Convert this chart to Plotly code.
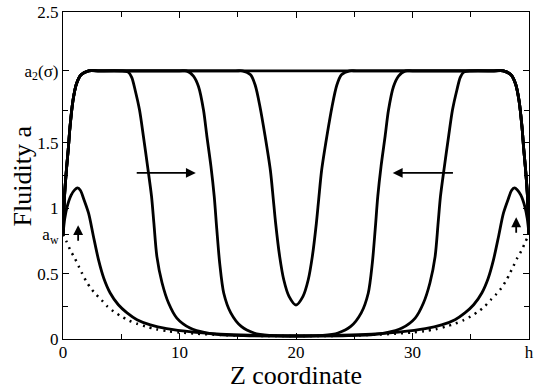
import plotly.graph_objects as go

# dotted initial profile
x_init = [0, 0.3, 0.65, 1.0, 1.35, 1.65, 2.0, 2.4, 2.8, 3.3, 3.8, 4.35, 5.0, 5.65, 6.35, 7.1, 8.0, 9.0,
          10.0, 11.5, 13.0, 15.0, 17.5, 20.0, 22.5, 25.0, 27.0, 28.5, 30.0, 31.0, 32.0, 32.9, 33.65, 34.35,
          35.0, 35.65, 36.2, 36.7, 37.2, 37.6, 38.0, 38.35, 38.65, 39.0, 39.35, 39.7, 40.0]
a_init = [0.80, 0.745, 0.675, 0.62, 0.555, 0.50, 0.44, 0.387, 0.344, 0.298, 0.25, 0.21, 0.173, 0.142, 0.117,
          0.096, 0.075, 0.06, 0.05, 0.04, 0.033, 0.027, 0.023, 0.022, 0.023, 0.027, 0.033, 0.04, 0.05, 0.06,
          0.075, 0.096, 0.117, 0.142, 0.173, 0.21, 0.25, 0.298, 0.344, 0.387, 0.44, 0.50, 0.555, 0.62, 0.675,
          0.745, 0.80]

# wall bumps
x_bump = [0, 0.15, 0.35, 0.7, 1.0, 1.25, 1.5, 1.8, 2.2, 2.6, 3.05, 3.5, 4.05, 4.75, 5.5, 6.35, 7.5, 8.9,
          11.2, 13.5, 16.0, 20.0, 24.0, 26.5, 28.8, 31.1, 32.5, 33.65, 34.5, 35.25, 35.95, 36.5, 36.95, 37.4,
          37.8, 38.2, 38.5, 38.75, 39.0, 39.3, 39.65, 39.85, 40.0]
a_bump = [0.80, 0.92, 1.01, 1.10, 1.14, 1.155, 1.135, 1.065, 0.96, 0.79, 0.605, 0.465, 0.352, 0.262, 0.20,
          0.148, 0.108, 0.079, 0.053, 0.038, 0.03, 0.025, 0.03, 0.038, 0.053, 0.079, 0.108, 0.148, 0.20,
          0.262, 0.352, 0.465, 0.605, 0.79, 0.96, 1.065, 1.135, 1.155, 1.14, 1.10, 1.01, 0.92, 0.80]

# front at z ~ 7.5 / 32.5
x_front1 = [0, 0.15, 0.3, 0.45, 0.6, 0.85, 1.15, 1.55, 2.2, 3.0, 5.0, 5.6, 5.9, 6.2, 6.57, 6.9, 7.26,
            7.6, 7.8, 8.06, 8.5, 9.06, 9.77, 10.9, 12.3, 13.4, 16.0, 20.0, 24.0, 26.6, 27.7, 29.1, 30.23,
            30.94, 31.5, 31.94, 32.2, 32.4, 32.74, 33.1, 33.43, 33.8, 34.1, 34.4, 35.0, 37.0, 37.8, 38.45,
            38.85, 39.15, 39.4, 39.55, 39.7, 39.85, 40.0]
a_front1 = [0.80, 1.12, 1.30, 1.45, 1.62, 1.82, 1.95, 2.02, 2.05, 2.05, 2.05, 2.04, 2.0, 1.9, 1.75, 1.55,
            1.32, 1.09, 0.887, 0.63, 0.43, 0.275, 0.16, 0.084, 0.046, 0.033, 0.025, 0.022, 0.025, 0.033,
            0.046, 0.084, 0.16, 0.275, 0.43, 0.63, 0.887, 1.09, 1.32, 1.55, 1.75, 1.9, 2.0, 2.04, 2.05,
            2.05, 2.05, 2.02, 1.95, 1.82, 1.62, 1.45, 1.30, 1.12, 0.80]

# front at z ~ 12.7 / 27.3
x_front2 = [0, 0.15, 0.3, 0.45, 0.6, 0.85, 1.15, 1.55, 2.2, 3.0, 10.0, 10.6, 11.2, 11.63, 12.06, 12.35,
            12.7, 12.98, 13.2, 13.45, 13.8, 14.4, 15.3, 16.4, 17.7, 20.0, 22.3, 23.6, 24.7, 25.6, 26.2,
            26.55, 26.8, 27.02, 27.3, 27.65, 27.94, 28.37, 28.8, 29.4, 30.0, 37.0, 37.8, 38.45, 38.85,
            39.15, 39.4, 39.55, 39.7, 39.85, 40.0]
a_front2 = [0.80, 1.12, 1.30, 1.45, 1.62, 1.82, 1.95, 2.02, 2.05, 2.05, 2.05, 2.05, 2.01, 1.93, 1.75, 1.55,
            1.32, 1.09, 0.84, 0.58, 0.35, 0.20, 0.096, 0.046, 0.028, 0.022, 0.028, 0.046, 0.096, 0.20, 0.35,
            0.58, 0.84, 1.09, 1.32, 1.55, 1.75, 1.93, 2.01, 2.05, 2.05, 2.05, 2.05, 2.02, 1.95, 1.82, 1.62,
            1.45, 1.30, 1.12, 0.80]

# fronts meeting at centre
x_front3 = [0, 0.15, 0.3, 0.45, 0.6, 0.85, 1.15, 1.55, 2.2, 3.0, 14.8, 15.4, 16.1, 16.5, 16.9, 17.35,
            17.8, 18.05, 18.25, 18.6, 18.95, 19.4, 20.0, 20.6, 21.05, 21.4, 21.75, 21.95, 22.2, 22.65,
            23.1, 23.5, 23.9, 24.6, 25.2, 37.0, 37.8, 38.45, 38.85, 39.15, 39.4, 39.55, 39.7, 39.85, 40.0]
a_front3 = [0.80, 1.12, 1.30, 1.45, 1.62, 1.82, 1.95, 2.02, 2.05, 2.05, 2.05, 2.05, 2.02, 1.94, 1.78, 1.55,
            1.29, 1.07, 0.887, 0.63, 0.453, 0.326, 0.26, 0.326, 0.453, 0.63, 0.887, 1.07, 1.29, 1.55, 1.78,
            1.94, 2.02, 2.05, 2.05, 2.05, 2.05, 2.02, 1.95, 1.82, 1.62, 1.45, 1.30, 1.12, 0.80]

# fully fluidised
x_full = [0, 0.15, 0.3, 0.45, 0.6, 0.85, 1.15, 1.55, 2.2, 3.0, 20.0, 37.0, 37.8, 38.45, 38.85, 39.15, 39.4,
          39.55, 39.7, 39.85, 40.0]
a_full = [0.80, 1.12, 1.30, 1.45, 1.62, 1.82, 1.95, 2.02, 2.05, 2.05, 2.05, 2.05, 2.05, 2.02, 1.95, 1.82,
          1.62, 1.45, 1.30, 1.12, 0.80]

# arrows: (tail z, tail a, head z, head a)
arrows = [(6.2, 1.27, 11.4, 1.27), (33.6, 1.27, 28.3, 1.27),
          (1.3, 0.74, 1.3, 0.87), (38.9, 0.80, 38.9, 0.93)]

x_tickvals = [0, 10, 20, 30, 40]
x_ticktext = ["0", "10", "20", "30", "h"]
y_tickvals = [0, 0.5, 0.8, 1, 1.5, 2.05, 2.5]
y_ticktext = ["0", "0.5", "a<sub>w</sub>", "1", "1.5", "a<sub>2</sub>(σ)", "2.5"]

FONT = "Liberation Serif"


def plot_fluidity():
    """ Fluidity profiles across the gap """

    figure = go.Figure()
    figure.add_trace(go.Scatter(x=x_init, y=a_init, mode="lines",
                                line=dict(color="black", width=2.5, dash="2px,5px",
                                          shape="spline", smoothing=0.8)))
    for xs, ys in [(x_bump, a_bump), (x_front1, a_front1), (x_front2, a_front2),
                   (x_front3, a_front3), (x_full, a_full)]:
        figure.add_trace(go.Scatter(x=xs, y=ys, mode="lines",
                                    line=dict(color="black", width=2.8,
                                              shape="spline", smoothing=0.8)))

    for x0, y0, x1, y1 in arrows:
        figure.add_annotation(x=x1, y=y1, ax=x0, ay=y0, xref="x", yref="y",
                              axref="x", ayref="y", text="", showarrow=True,
                              arrowhead=2, arrowsize=1.1, arrowwidth=1.8,
                              arrowcolor="black")

    # y title placed by hand, left of the tick labels
    figure.add_annotation(text="Fluidity a", textangle=-90, xref="paper", yref="paper",
                          x=-0.086, y=0.5, xanchor="center", yanchor="middle",
                          showarrow=False, font=dict(family=FONT, size=26, color="black"))

    axis_common = dict(showgrid=False, zeroline=False, showline=True, automargin=False,
                       linecolor="black", linewidth=1.2, mirror="ticks",
                       ticks="inside", ticklen=6, tickwidth=1, tickcolor="black",
                       tickfont=dict(family=FONT, size=17, color="black"))
    figure.update_xaxes(range=[0, 40], tickmode="array", tickvals=x_tickvals,
                        ticktext=x_ticktext, ticklabelstandoff=-3,
                        minor=dict(tickvals=[5, 15, 25, 35], ticks="inside",
                                   ticklen=5, tickcolor="black"),
                        title=dict(text="Z coordinate", standoff=4,
                                   font=dict(family=FONT, size=26, color="black")),
                        **axis_common)
    figure.update_yaxes(range=[0, 2.5], tickmode="array", tickvals=y_tickvals,
                        ticktext=y_ticktext,
                        minor=dict(tickvals=[0.25, 1.25, 1.75], ticks="inside",
                                   ticklen=5, tickcolor="black"),
                        **axis_common)
    figure.update_layout(width=534, height=391, showlegend=False,
                         margin=dict(l=63, r=5, t=12, b=52),
                         font=dict(family=FONT),
                         plot_bgcolor="white", paper_bgcolor="white")
    return figure


fig = plot_fluidity()
fig.write_html("out.html", config={"displayModeBar": False},
               post_script="document.body.style.margin = '0';")
